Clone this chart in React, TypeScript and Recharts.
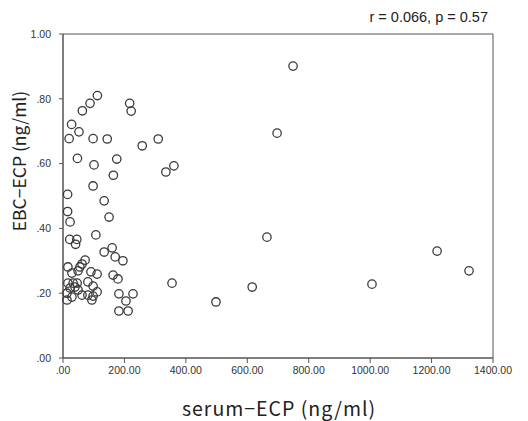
import React from 'react';
import {
  ScatterChart,
  Scatter,
  XAxis,
  YAxis,
  ReferenceArea,
  Label,
} from 'recharts';

// serum-ECP (ng/ml) vs EBC-ECP (ng/ml)
const serumEcp = [
  112, 88, 63, 217, 222, 28, 52, 20, 98, 144, 258, 310, 47, 175, 101, 164, 335, 361,
  98, 15, 134, 15, 23, 150, 107, 22, 45, 41,
  749, 697, 664,
  134, 160, 170, 195, 72, 62, 55, 49, 91, 111, 16, 29, 163, 179, 81, 98,
  16, 33, 46, 23, 39, 49, 13, 29, 13, 62, 81, 111, 98, 94, 182, 228, 205, 182, 212,
  355, 498, 616, 1006, 1218, 1322,
];
const ebcEcp = [
  0.81, 0.786, 0.763, 0.786, 0.762, 0.721, 0.698, 0.677, 0.677, 0.676, 0.655, 0.676, 0.616, 0.614, 0.596, 0.564, 0.574, 0.593,
  0.531, 0.505, 0.485, 0.452, 0.42, 0.435, 0.38, 0.366, 0.366, 0.351,
  0.901, 0.694, 0.373,
  0.327, 0.34, 0.312, 0.3, 0.302, 0.29, 0.281, 0.269, 0.266, 0.259, 0.281, 0.262, 0.256, 0.244, 0.235, 0.222,
  0.231, 0.231, 0.231, 0.216, 0.219, 0.21, 0.2, 0.188, 0.179, 0.194, 0.194, 0.204, 0.191, 0.179, 0.198, 0.198, 0.176, 0.145, 0.145,
  0.231, 0.173, 0.219, 0.228, 0.33, 0.269,
];
const xTicks = [0, 200, 400, 600, 800, 1000, 1200, 1400];
const yTicks = [0, 0.2, 0.4, 0.6, 0.8, 1];
const statText = 'r = 0.066, p = 0.57';

const points = serumEcp.map((x, i) => ({ x, y: ebcEcp[i] }));

const fmt = (v: number) => v.toFixed(2).replace(/^0\./, '.');

const tickStyle = { fontSize: 10.5, fill: '#333', fontFamily: 'Liberation Sans, Arial, sans-serif' };
const titleFont = 'Noto Sans CJK JP, Noto Sans, sans-serif';

const Ring = (props: any) => (
  <circle cx={props.cx} cy={props.cy} r={4.2} fill="none" stroke="#3a3a3a" strokeWidth={1.3} />
);

export default function App() {
  return (
    <div style={{ position: 'absolute', left: 0, top: 0, width: 528, height: 421, background: '#fff' }}>
      <ScatterChart width={528} height={421} margin={{ top: 34, right: 35, bottom: 0, left: 0 }}>
        <text x={488} y={22} textAnchor="end" fontSize={14.5} fontFamily="Liberation Sans, Arial, sans-serif" fill="#222">
          {statText}
        </text>
        <XAxis
          type="number"
          dataKey="x"
          domain={[0, 1400]}
          ticks={xTicks}
          tickFormatter={fmt}
          height={63}
          tickSize={5}
          tickMargin={4}
          stroke="#555"
          tick={tickStyle}
        >
          <Label
            content={() => (
              <text
                x={279}
                y={416}
                textAnchor="middle"
                fontSize={19.5}
                letterSpacing={1}
                fontFamily={titleFont}
                fill="#222"
              >
                serum−ECP (ng/ml)
              </text>
            )}
          />
        </XAxis>
        <YAxis
          type="number"
          dataKey="y"
          domain={[0, 1]}
          ticks={yTicks}
          tickFormatter={fmt}
          width={63}
          tickSize={4}
          tickMargin={8}
          stroke="#555"
          tick={tickStyle}
        >
          <Label
            content={() => (
              <text
                x={26}
                y={161}
                textAnchor="middle"
                fontSize={17.5}
                fontFamily={titleFont}
                fill="#222"
                transform="rotate(-90 26 161)"
              >
                EBC−ECP (ng/ml)
              </text>
            )}
          />
        </YAxis>
        <ReferenceArea x1={0} x2={1400} y1={0} y2={1} fill="none" stroke="#555" strokeWidth={1} />
        <Scatter data={points} shape={Ring} isAnimationActive={false} />
      </ScatterChart>
    </div>
  );
}
